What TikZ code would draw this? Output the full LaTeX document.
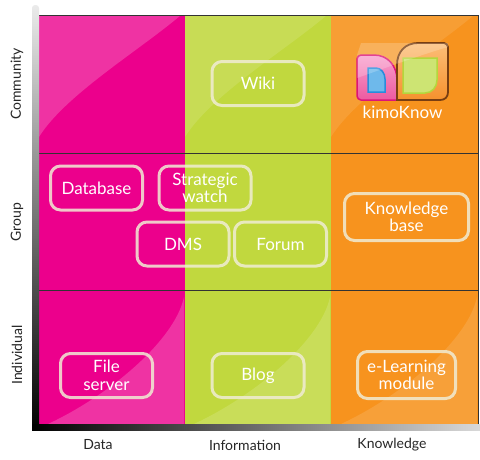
\documentclass[tikz,border=0pt]{standalone}
\usepackage{fontspec}
\setmainfont{Lato}
\usetikzlibrary{shapes}

\definecolor{kpink}{RGB}{236,0,140}
\definecolor{kgreen}{RGB}{193,216,62}
\definecolor{korange}{RGB}{247,147,30}
\definecolor{kframe}{RGB}{240,236,212}

\begin{document}
\begin{tikzpicture}[x=1pt,y=-1pt,
  tool/.style={draw=kframe,draw opacity=0.85,line width=3pt,rounded corners=10pt,minimum width=92pt,minimum height=44pt,text=white,align=center,inner sep=2pt,font=\fontsize{17}{17.5}\selectfont},
  axis/.style={text=black!85,font=\fontsize{14}{14}\selectfont}]

\useasboundingbox (0,0) rectangle (480,459);

\fill[kpink] (39,15) rectangle (185,424);
\fill[kgreen] (185,15) rectangle (331,424);
\fill[korange] (331,15) rectangle (478,424);

\fill[white,opacity=0.2] (39,15) -- (181,15) .. controls (140,50) and (65,95) .. (39,137) -- cycle;
\fill[white,opacity=0.12] (185,15) -- (327,15) .. controls (286,50) and (211,95) .. (185,137) -- cycle;
\fill[white,opacity=0.1] (331,15) -- (474,15) .. controls (433,50) and (357,95) .. (331,137) -- cycle;
\fill[white,opacity=0.2] (184,424) -- (184,297) .. controls (175,340) and (110,395) .. (48,424) -- cycle;
\fill[white,opacity=0.14] (330,424) -- (330,297) .. controls (321,340) and (256,395) .. (194,424) -- cycle;
\fill[white,opacity=0.12] (477,424) -- (477,297) .. controls (468,340) and (403,395) .. (341,424) -- cycle;

\draw [black!80,line width=1pt] (39,15) -- (478,15) -- (478,424);
\draw [black!80,line width=1pt] (39,153) -- (478,153) (39,290) -- (478,290);

\shade [top color=black!8,bottom color=black,rounded corners=3pt] (32,5) rectangle (39,430);
\shade [left color=black,right color=black!15] (32,424) rectangle (480,430);

\draw [draw={rgb,255:red,220;green,20;blue,120},line width=1.5pt,top color={rgb,255:red,248;green,160;blue,205},bottom color={rgb,255:red,236;green,90;blue,160}] (361,55) -- (374,55) .. controls (388,55) and (397,66) .. (397,80) -- (397,100) -- (361,100) .. controls (359,100) and (357,98) .. (357,96) -- (357,59) .. controls (357,57) and (359,55) .. (361,55) -- cycle;
\draw [draw={rgb,255:red,40;green,140;blue,220},line width=1.5pt,fill={rgb,255:red,110;green,185;blue,235}] (368,68) -- (376,68) .. controls (381,68) and (385,73) .. (385,79) -- (385,92) -- (368,92) -- cycle;
\draw [draw={rgb,255:red,120;green,62;blue,18},line width=1.8pt,top color={rgb,255:red,252;green,190;blue,120},bottom color={rgb,255:red,245;green,145;blue,45}] (397,65) .. controls (397,52) and (405,43) .. (418,43) -- (444,43) .. controls (446,43) and (448,45) .. (448,47) -- (448,92) .. controls (448,97) and (445,100) .. (440,100) -- (397,100) -- cycle;
\draw [draw={rgb,255:red,180;green,215;blue,60},line width=1.5pt,fill={rgb,255:red,205;green,228;blue,115}] (403,58) -- (437,58) -- (437,80) .. controls (437,87) and (432,93) .. (425,93) -- (403,93) -- cycle;
\fill [white,opacity=0.2] (357,78) .. controls (380,70) and (420,55) .. (448,47) -- (448,43) -- (361,43) -- (357,55) -- cycle;

\node (k1) at (402.5,112) [text=white,font=\fontsize{17}{17}\selectfont] {kimoKnow};

\node (t1) at (258,83.5) [tool] {Wiki};
\node (t2) at (96.5,188) [tool] {Database};
\node (t3) at (205,188) [tool] {Strategic\\watch};
\node (t4) at (183,244) [tool] {DMS};
\node (t5) at (280.5,244) [tool] {Forum};
\node (t6) at (406.5,217) [tool,minimum width=124pt,minimum height=47pt] {Knowledge\\base};
\node (t7) at (106.5,375.5) [tool] {File\\server};
\node (t8) at (258,375.5) [tool] {Blog};
\node (t9) at (406.5,375) [tool,minimum width=98pt,minimum height=47pt] {e-Learning\\module};

\node (c1) at (98,445) [axis] {Data};
\node (c2) at (245,445) [axis] {Information};
\node (c3) at (392,445) [axis] {Knowledge};
\node (l1) at (17,84) [axis,rotate=90] {Community};
\node (l2) at (17,222) [axis,rotate=90] {Group};
\node (l3) at (17,355) [axis,rotate=90] {Individual};

\end{tikzpicture}
\end{document}
